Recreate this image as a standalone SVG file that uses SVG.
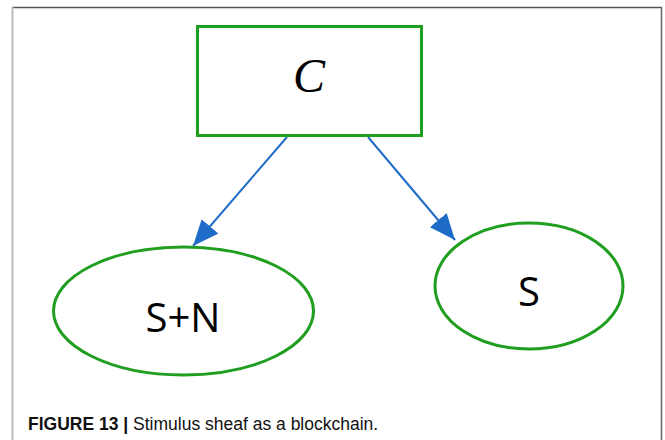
<svg xmlns="http://www.w3.org/2000/svg" width="665" height="440" viewBox="0 0 665 440">
<defs>
<style>
.node{fill:#fff;stroke:#1f9e1f;stroke-width:3}
.lbl{font-family:"Open Sans","Liberation Sans",sans-serif;font-size:40px;fill:#000;text-anchor:middle}
.edge{stroke:#1f6cc8;stroke-width:2;fill:none}
</style>
<marker id="ah2" viewBox="0 0 26 22" refX="26" refY="11" markerWidth="26" markerHeight="22" orient="auto" markerUnits="userSpaceOnUse">
<path d="M0,0 L26,11 L0,22 Z" fill="#1f6cc8"/>
</marker>
</defs>
<rect width="665" height="440" fill="#fff"/>
<g id="frame">
<line x1="12" y1="7.5" x2="662" y2="7.5" stroke="#555" stroke-width="1.5"/>
<line x1="12.5" y1="7" x2="12.5" y2="440" stroke="#bbb" stroke-width="2"/>
<line x1="661.5" y1="7" x2="661.5" y2="440" stroke="#666" stroke-width="1.5"/>
</g>
<g id="connectors">
<line class="edge" x1="287" y1="137" x2="193" y2="246" marker-end="url(#ah2)"/>
<line class="edge" x1="368" y1="137" x2="455" y2="240" marker-end="url(#ah2)"/>
</g>
<g id="node-C">
<rect class="node" x="197.5" y="26.5" width="224" height="109"/>
<text x="309" y="92" font-family="'Liberation Serif',serif" font-style="italic" font-size="48" text-anchor="middle">C</text>
</g>
<g id="node-SN">
<ellipse class="node" cx="183.5" cy="311" rx="130" ry="64"/>
<text class="lbl" x="183" y="332">S+N</text>
</g>
<g id="node-S">
<ellipse class="node" cx="529" cy="286" rx="94" ry="63"/>
<text class="lbl" x="529" y="306">S</text>
</g>
<g id="caption">
<text x="28" y="430" font-family="'Liberation Sans',Arial,sans-serif" font-size="17.5" fill="#111"><tspan font-weight="bold">FIGURE 13 |</tspan> Stimulus sheaf as a blockchain.</text>
</g>
</svg>
